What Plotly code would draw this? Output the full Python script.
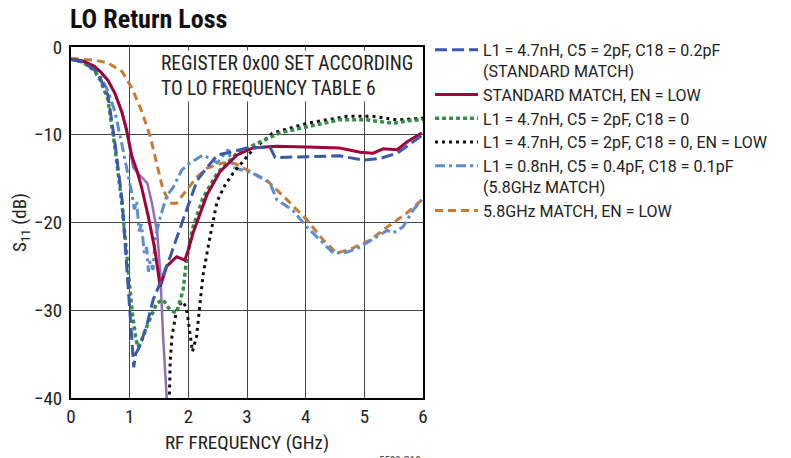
import plotly.graph_objects as go

# ---------------- data ----------------
std_f = [0, 0.2, 0.4, 0.5, 0.63, 0.75, 0.87, 0.95, 1.0, 1.04, 1.07, 1.1, 1.18, 1.3, 1.4,
         1.52, 1.69, 1.91, 2.15, 2.32, 2.5, 2.71, 3.0, 3.39, 3.48, 4.02, 4.58, 4.98, 5.27,
         5.56, 5.8, 6.0]
std_db = [-1.4, -1.7, -2.6, -3.6, -5.5, -11, -17.4, -25, -29, -32.6, -36.5, -35, -34, -31.5,
          -28.8, -26.9, -23.9, -19.7, -15.2, -13.7, -12.3, -12, -11.5, -11.4, -12.6, -12.5,
          -12.4, -12.9, -12.7, -12.1, -11, -10]

stdlow_f = [0, 0.2, 0.4, 0.5, 0.63, 0.75, 0.87, 0.95, 1.04, 1.12, 1.2, 1.32, 1.43, 1.52,
            1.63, 1.8, 1.94, 2.0, 2.08, 2.2, 2.32, 2.54, 2.66, 2.83, 3.1, 3.5, 4.02, 4.58,
            4.93, 5.15, 5.32, 5.56, 5.73, 5.98]
stdlow_db = [-1.4, -1.6, -2.2, -2.8, -3.8, -5.3, -7.5, -9.5, -12.5, -14, -15.9, -19.4, -23.1,
             -27.3, -25, -23.9, -24.3, -23.1, -21.2, -18.9, -16.8, -14.2, -13.4, -12.3, -11.5,
             -11.3, -11.4, -11.5, -12.0, -12.1, -11.6, -11.7, -10.8, -9.8]

c18zero_f = [0, 0.2, 0.4, 0.5, 0.63, 0.75, 0.87, 0.95, 1.04, 1.1, 1.14, 1.2, 1.29, 1.46,
             1.57, 1.69, 1.8, 1.91, 1.97, 2.08, 2.25, 2.49, 2.83, 3.17, 3.56, 4.02, 4.58,
             5.04, 5.49, 5.75, 6.0]
c18zero_db = [-1.4, -1.7, -2.7, -3.8, -6, -11.5, -18, -24, -30, -33, -34.2, -33.5, -31.9,
              -29.2, -28.8, -30, -30.3, -27.7, -24.3, -20.5, -17.2, -14.4, -12.1, -11, -9.8,
              -9.1, -8.3, -8.3, -8.7, -8.4, -8.3]

c18zerolow_f = [1.67, 1.69, 1.72, 1.8, 1.89, 1.94, 1.98, 2.03, 2.07, 2.14, 2.2, 2.25, 2.37,
                2.49, 2.62, 2.76, 3.1, 3.44, 4.02, 4.7, 5.15, 5.56, 6.0]
c18zerolow_db = [-42, -36, -33, -30, -29, -29.4, -30.3, -33, -34.7, -33, -29.2, -26, -21.6,
                 -17.6, -15.8, -14.4, -11.7, -9.8, -8.7, -7.9, -7.9, -8.3, -8.1]

m58_f = [0, 0.2, 0.4, 0.5, 0.63, 0.75, 0.87, 0.95, 1.0, 1.04, 1.08, 1.12, 1.16, 1.2, 1.25,
         1.29, 1.32, 1.35, 1.4, 1.43, 1.52, 1.63, 1.74, 1.89, 2.03, 2.25, 2.42, 2.49, 2.68,
         2.76, 3.1, 3.39, 3.51, 3.78, 4.02, 4.24, 4.47, 4.7, 4.93, 5.22, 5.39, 5.49, 5.66,
         5.83, 5.98]
m58_db = [-1.4, -1.7, -2.4, -3.3, -5, -7.4, -11.2, -13.7, -15.5, -16.8, -18.5, -17.6, -21,
          -20.2, -23.5, -22.8, -25.6, -24.4, -25.4, -22, -19.4, -17, -16, -14, -13.2, -12.3,
          -12.9, -13.2, -11.7, -13.7, -14.4, -15.5, -17.4, -18.6, -20.5, -22, -23.5, -23.4,
          -22.8, -21.6, -20.9, -21.2, -20.5, -18.6, -17.4]

m58low_f = [0, 0.2, 0.4, 0.63, 0.87, 1.04, 1.21, 1.35, 1.46, 1.57, 1.69, 1.8, 1.97, 2.15,
            2.32, 2.59, 2.8, 3.0, 3.34, 3.68, 4.02, 4.3, 4.53, 4.81, 5.1, 5.39, 5.73, 5.98]
m58low_db = [-1.3, -1.4, -1.5, -1.8, -2.8, -4.7, -7.4, -10.2, -13.2, -16.3, -17.8, -17.8,
             -16.3, -14.8, -13.8, -13.2, -13.3, -14, -15.2, -17.4, -19.7, -22, -23.5, -22.9,
             -22, -20.5, -18.9, -17.4]

extra_f = [0, 0.2, 0.4, 0.5, 0.63, 0.75, 0.87, 0.95, 1.06, 1.14, 1.3, 1.38, 1.47, 1.52,
           1.57, 1.62, 1.64]
extra_db = [-1.4, -1.6, -2.2, -2.8, -3.8, -5.3, -7.4, -9.7, -13.7, -14.4, -15.5, -17.8,
            -21.2, -25.5, -33, -40, -41]

x_ticks = [0, 1, 2, 3, 4, 5, 6]
y_ticks = [0, -10, -20, -30, -40]

names = [
    "L1 = 4.7nH, C5 = 2pF, C18 = 0.2pF<br>(STANDARD MATCH)",
    "STANDARD MATCH, EN = LOW",
    "L1 = 4.7nH, C5 = 2pF, C18 = 0",
    "L1 = 4.7nH, C5 = 2pF, C18 = 0, EN = LOW",
    "L1 = 0.8nH, C5 = 0.4pF, C18 = 0.1pF<br>(5.8GHz MATCH)",
    "5.8GHz MATCH, EN = LOW",
]

COND = "Roboto Condensed, Liberation Sans Narrow, sans-serif"
LEG = "Roboto, Liberation Sans, Arial, sans-serif"
TXT = "#222222"

fig = go.Figure()

fig.add_trace(go.Scatter(x=extra_f, y=extra_db, mode="lines", showlegend=False,
                         line=dict(color="#8c72b0", width=2.5)))
fig.add_trace(go.Scatter(x=m58low_f, y=m58low_db, mode="lines", name=names[5],
                         line=dict(color="#c87b35", width=3, dash="8px,5px")))
fig.add_trace(go.Scatter(x=m58_f, y=m58_db, mode="lines", name=names[4],
                         line=dict(color="#5b8dd0", width=3, dash="10px,4px,3px,4px")))
fig.add_trace(go.Scatter(x=c18zerolow_f, y=c18zerolow_db, mode="lines", name=names[3],
                         line=dict(color="#111111", width=3, dash="3px,4px")))
fig.add_trace(go.Scatter(x=c18zero_f, y=c18zero_db, mode="lines", name=names[2],
                         line=dict(color="#3b8c4b", width=3.5, dash="4px,3px")))
fig.add_trace(go.Scatter(x=stdlow_f, y=stdlow_db, mode="lines", name=names[1],
                         line=dict(color="#a2003a", width=3)))
fig.add_trace(go.Scatter(x=std_f, y=std_db, mode="lines", name=names[0],
                         line=dict(color="#3a5aa8", width=3, dash="12px,5px")))

# the page body has an 8px margin, so the figure is 8px smaller than the window
fig.update_layout(
    width=783, height=450,
    margin=dict(l=63, r=368, t=39, b=60),
    paper_bgcolor="white", plot_bgcolor="white",
    font=dict(family=COND, size=19, color=TXT),
    showlegend=True,
    legend=dict(x=1.02, y=1.04, xanchor="left", yanchor="top",
                traceorder="reversed", valign="top",
                font=dict(family=LEG, size=16, color=TXT),
                itemwidth=43, tracegroupgap=0, bgcolor="rgba(0,0,0,0)"),
    xaxis=dict(range=[0, 6], tickvals=x_ticks, showgrid=True, gridcolor="#444444",
               gridwidth=1, showline=True, linecolor="black", linewidth=2, mirror=True,
               ticks="", zeroline=False, tickfont=dict(size=19), automargin=False,
               title=dict(text="RF FREQUENCY (GHz)", standoff=9,
                          font=dict(family=COND, size=19))),
    yaxis=dict(range=[-40, 0], tickvals=y_ticks, showgrid=True, gridcolor="#444444",
               gridwidth=1, showline=True, linecolor="black", linewidth=2, mirror=True,
               ticks="", zeroline=False, tickfont=dict(size=19), automargin=False,
               ticklabelstandoff=3,
               title=dict(text="S<sub>11</sub> (dB)", standoff=10,
                          font=dict(family=COND, size=19))),
    annotations=[
        dict(text="<b>LO Return Loss</b>", x=0, y=1.0, xref="paper", yref="paper",
             xanchor="left", yanchor="bottom", yshift=11, xshift=-3, showarrow=False,
             font=dict(family=COND, size=26, color="#111111")),
        dict(text="REGISTER 0x00 SET ACCORDING<br>TO LO FREQUENCY TABLE 6",
             x=1.5, y=-0.3, xref="x", yref="y", xanchor="left", yanchor="top",
             align="left", showarrow=False, bgcolor="white", borderpad=1,
             font=dict(family=COND, size=19.5, color=TXT)),
        dict(text="5509 G10", x=1.0, y=-0.155, xref="paper", yref="paper",
             xanchor="right", yanchor="top", showarrow=False,
             font=dict(family=COND, size=11, color="#444444")),
    ],
)

fig.write_html("out.html")
